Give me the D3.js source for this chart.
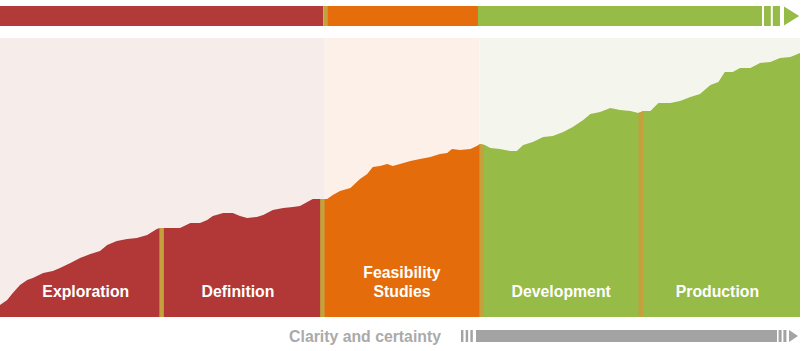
<!DOCTYPE html>
<html>
<head>
<meta charset="utf-8">
<script src="https://cdn.jsdelivr.net/npm/d3@7"></script>
<style>
  body { margin: 0; background: #fff; }
  text { font-family: "Liberation Sans", Arial, sans-serif; font-weight: bold; }
</style>
</head>
<body>
<div id="chart"></div>
<script>
// project timeline (% of life cycle) and the "value" profile of the mountain
var progress = [0, 0.9, 1.6, 2.5, 3.4, 4.1, 5.4, 6.6, 7.5, 8.8, 10, 11.3, 12.5, 13.4, 14.6, 15.9, 17.1, 18.4, 19.6, 20,
  22.5, 23.8, 25, 25.9, 26.6, 27.9, 29.1, 30, 30.9, 32.1, 32.9, 34.1, 35.4, 36.6, 37.5, 38.4, 39.1, 40,
  40.9, 41.6, 42.5, 43.8, 45, 45.9, 46.6, 47.5, 48.4, 49.1, 50, 51.3, 52.5, 53.8, 55, 55.9, 56.5, 57.5, 58.8, 59.6, 60,
  60.6, 61.3, 62.5, 63.8, 64.6, 65.4, 66.6, 67.9, 69.1, 70.4, 71.6, 72.9, 73.8, 75, 76.3, 77.5, 78.8, 79.8,
  80.4, 81.3, 82.3, 83.8, 85, 86.3, 87.5, 88.8, 89.8, 90.6, 91.6, 92.5, 93.8, 95, 96.3, 97.5, 98.8, 100];
var value = [12, 17, 24, 32, 37, 39, 44, 46, 49, 54, 59, 63, 66, 72, 76, 78, 79, 82, 88, 89,
  89, 94, 94, 97, 101, 104, 104, 101, 99, 100, 102, 107, 109, 110, 111, 115, 118, 118,
  118, 122, 126, 129, 138, 143, 150, 151, 153, 151, 153, 156, 158, 160, 163, 164, 168, 167, 168, 171, 173,
  172, 169, 168, 166, 166, 172, 175, 180, 181, 185, 190, 197, 203, 205, 209, 207, 206, 204,
  206, 206, 214, 214, 216, 220, 223, 232, 235, 245, 245, 249, 249, 254, 255, 259, 260, 264];

// phases
var phases = ["Exploration", "Definition", "Feasibility Studies", "Development", "Production"];
var phaseEdges = [0, 20.2, 40.3, 60.2, 80.1, 100];
var phaseColors = ["#b13837", "#b13837", "#e46c0b", "#96bb46", "#96bb46"];
var panelColors = ["#f6ecea", "#fcf0e8", "#f4f6ee"];

// top timeline bar
var barStops = [0, 40.4, 40.9, 59.75, 95.25];
var barColors = ["#b23a38", "#c4a13c", "#e56d0c", "#96bb46"];

var svgWidth = 805;
var svgHeight = 351;
var baseY = 317;
var topY = 38;

var svg = d3.select("#chart")
  .append("svg")
  .attr("width", svgWidth)
  .attr("height", svgHeight);

var xScale = d3.scaleLinear().domain([0, 100]).range([0, 800]);
var yScale = d3.scaleLinear().domain([0, 280]).range([baseY, baseY - 280]);

var data = progress.map((p, i) => ({ p: p, v: value[i] }));

// light background panels
var panelEdges = [0, xScale(phaseEdges[2]) + 2.25, xScale(phaseEdges[3]) - 2.25, xScale(100)];
svg.selectAll("rect.panel")
  .data(panelColors)
  .enter()
  .append("rect")
  .attr("class", "panel")
  .attr("x", (d, i) => panelEdges[i])
  .attr("width", (d, i) => panelEdges[i + 1] - panelEdges[i])
  .attr("y", topY)
  .attr("height", baseY - topY)
  .attr("fill", d => d);

// mountain shape used as a clip
var area = d3.area()
  .x(d => xScale(d.p))
  .y0(yScale(0))
  .y1(d => yScale(d.v));

svg.append("clipPath")
  .attr("id", "mountain")
  .append("path")
  .attr("d", area(data));

var mountain = svg.append("g").attr("clip-path", "url(#mountain)");

mountain.selectAll("rect.phase")
  .data(phases)
  .enter()
  .append("rect")
  .attr("class", "phase")
  .attr("x", (d, i) => xScale(phaseEdges[i]))
  .attr("width", (d, i) => xScale(phaseEdges[i + 1]) - xScale(phaseEdges[i]))
  .attr("y", 0)
  .attr("height", baseY)
  .attr("fill", (d, i) => phaseColors[i]);

// gold separators between phases
mountain.selectAll("rect.sep")
  .data(phaseEdges.slice(1, -1))
  .enter()
  .append("rect")
  .attr("class", "sep")
  .attr("x", d => xScale(d) - 2.25)
  .attr("width", 4.5)
  .attr("y", 0)
  .attr("height", baseY)
  .attr("fill", "#c4a13c");

// phase labels
phases.forEach(function(name, i) {
  var cx = (xScale(phaseEdges[i]) + xScale(phaseEdges[i + 1])) / 2;
  if (i === 0) cx += 5;
  if (i === 1) cx -= 4;
  if (i === 4) cx -= 3;
  var lines = name === "Feasibility Studies" ? ["Feasibility", "Studies"] : [name];
  var t = svg.append("text")
    .attr("text-anchor", "middle")
    .attr("fill", "#fff")
    .style("font-size", "15.8px");
  lines.forEach(function(line, j) {
    t.append("tspan")
      .attr("x", cx)
      .attr("y", 297 - (lines.length - 1 - j) * 19.5)
      .text(line);
  });
});

// top timeline bar
svg.selectAll("rect.bar")
  .data(barColors)
  .enter()
  .append("rect")
  .attr("class", "bar")
  .attr("x", (d, i) => xScale(barStops[i]))
  .attr("width", (d, i) => xScale(barStops[i + 1]) - xScale(barStops[i]))
  .attr("y", 6)
  .attr("height", 20)
  .attr("fill", d => d);

var green = "#96bb46";
[[95.5, 96.35], [96.6, 97.5]].forEach(function(s) {
  svg.append("rect")
    .attr("x", xScale(s[0]))
    .attr("width", xScale(s[1]) - xScale(s[0]))
    .attr("y", 6)
    .attr("height", 20)
    .attr("fill", green);
});
svg.append("path")
  .attr("d", `M${xScale(98)},6.5 L${xScale(99.9)},16 L${xScale(98)},25.5 Z`)
  .attr("fill", green);

// bottom "clarity" arrow
var grey = "#a3a3a3";
svg.append("text")
  .attr("x", 441)
  .attr("y", 342)
  .attr("text-anchor", "end")
  .attr("fill", "#aaaaaa")
  .style("font-size", "15.8px")
  .text("Clarity and certainty");

[[461, 463.4], [465.7, 468.1], [470.4, 472.8], [476, 777], [778.6, 781.6], [783.4, 786.4]].forEach(function(s) {
  svg.append("rect")
    .attr("x", s[0])
    .attr("width", s[1] - s[0])
    .attr("y", 330)
    .attr("height", 12)
    .attr("fill", grey);
});
svg.append("path")
  .attr("d", "M789,330 L798,336 L789,342 Z")
  .attr("fill", grey);
</script>
</body>
</html>
